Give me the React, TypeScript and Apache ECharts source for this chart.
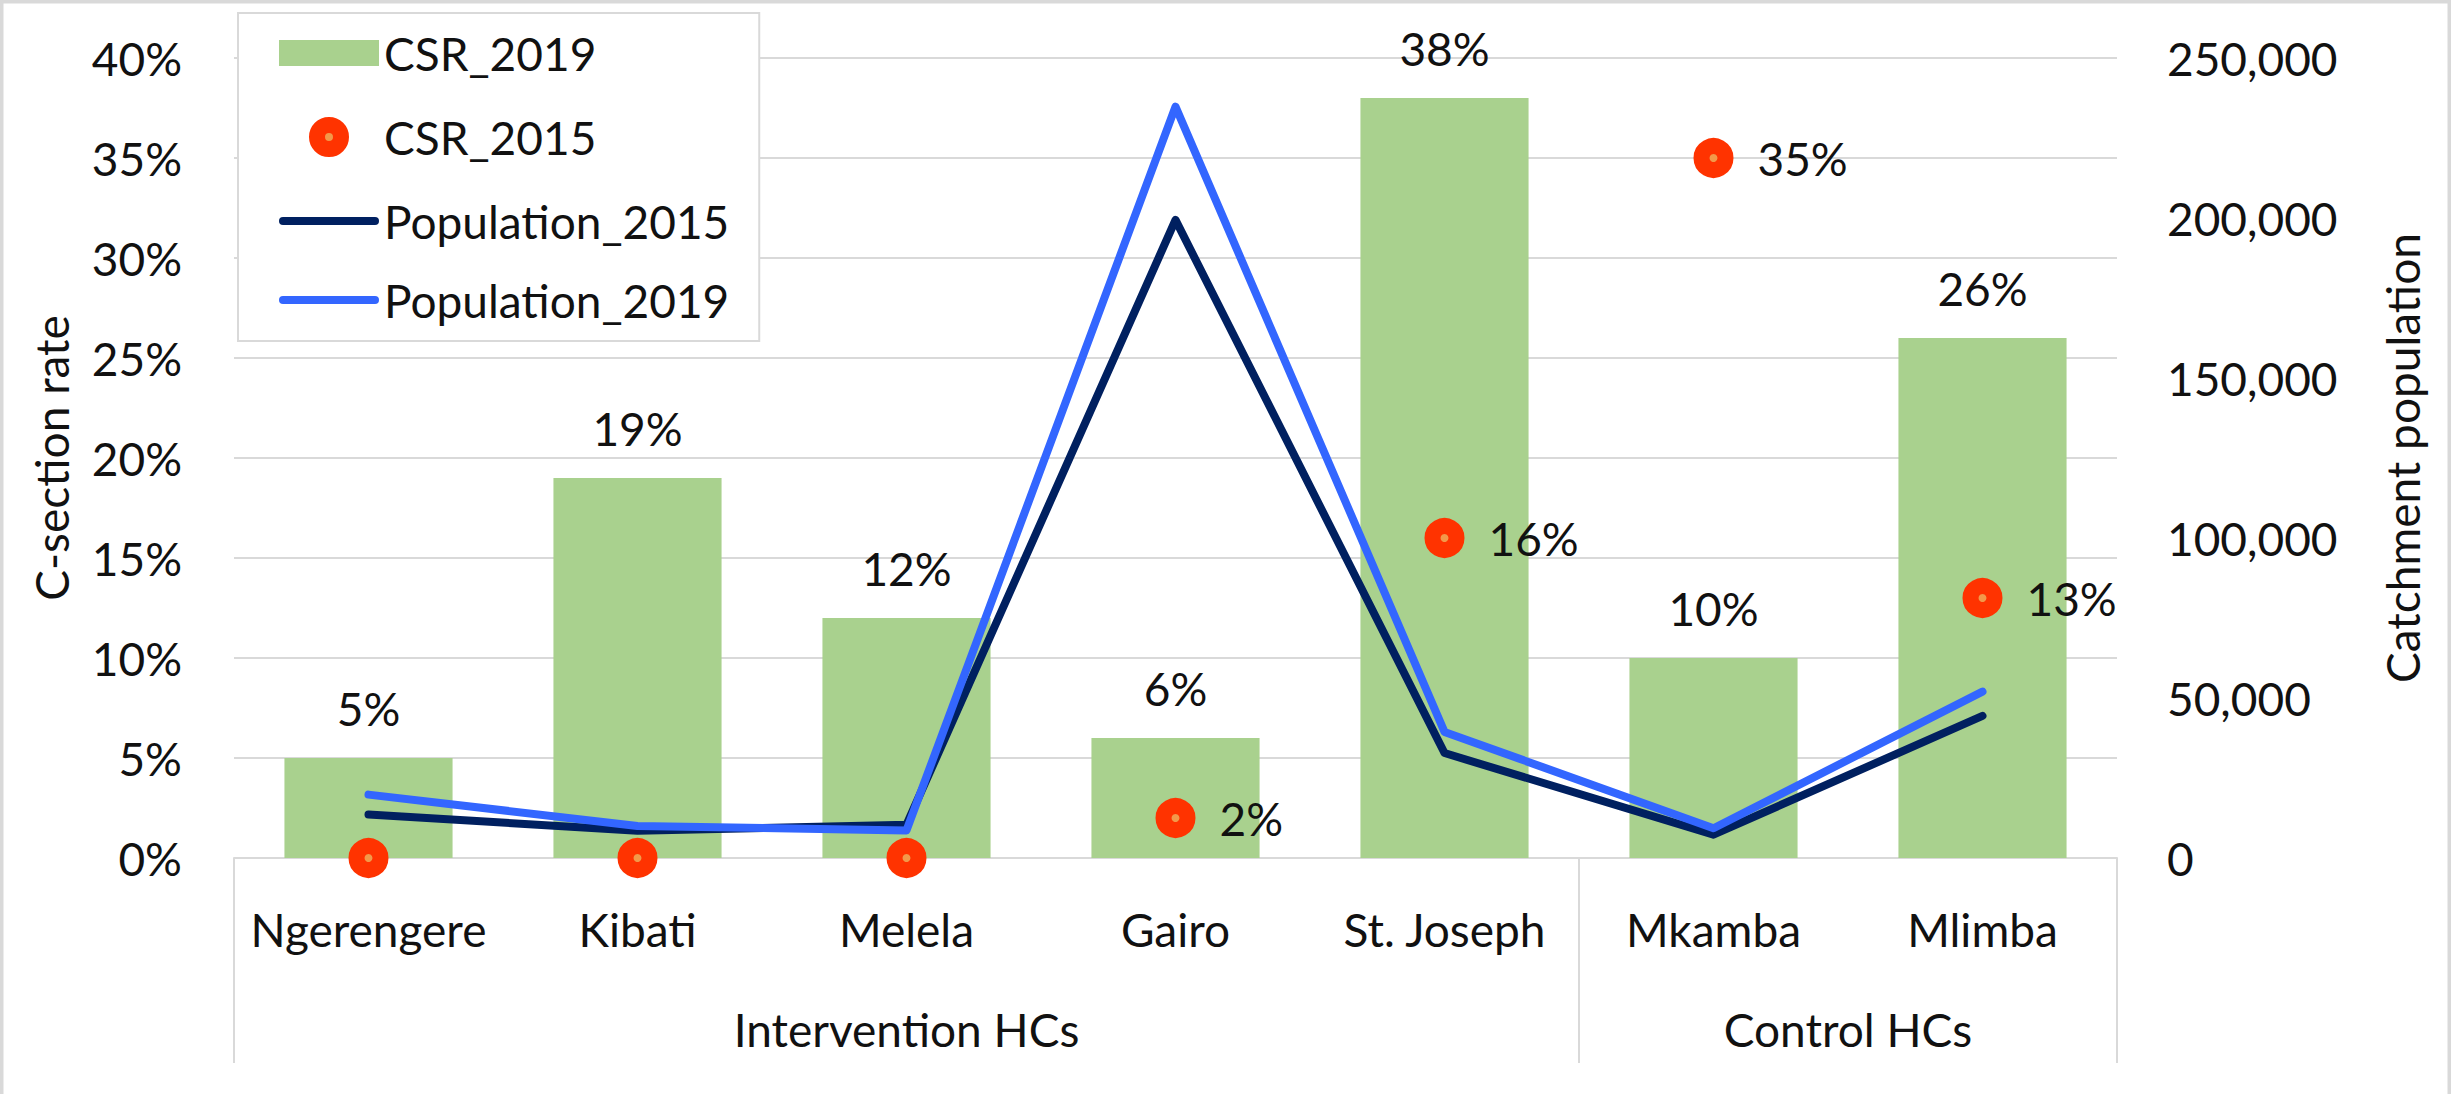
import React, { useEffect, useRef } from 'react';
import * as echarts from 'echarts';

// ---- data ----
const categories = ['Ngerengere', 'Kibati', 'Melela', 'Gairo', 'St. Joseph', 'Mkamba', 'Mlimba'];
const groups = ['Intervention HCs', 'Control HCs'];
const groupSizes = [5, 2];
const csr2019 = [5, 19, 12, 6, 38, 10, 26]; // %
const csr2015 = [0, 0, 0, 2, 16, 35, 13]; // %
const pop2015 = [13600, 8500, 10400, 199400, 32800, 7300, 44400];
const pop2019 = [19800, 10000, 8600, 234800, 39400, 9300, 52000];
const rateAxis = { min: 0, max: 40, interval: 5 };
const popAxis = { min: 0, max: 250000, interval: 50000 };

// group boundaries and centres (in category units)
const groupBounds: number[] = [0];
groupSizes.forEach((s, i) => groupBounds.push(groupBounds[i] + s));
const groupCenters = groupSizes.map((s, i) => groupBounds[i] + s / 2);

const FONT = 'Lato, "Noto Sans", sans-serif';
const TXT = '#111111';
const GRID = '#D9D9D9';
const FS = 46;
const DARK = '#002060';
const BLUE = '#3366FF';

const BAR_ICON = 'path://M0,0L0,0M0,7L100,7L100,33L0,33ZM100,40L100,40';
const DOT_ICON = 'path://M0,0L0,0M100,40L100,40M38,20A12,12,0,1,0,62,20A12,12,0,1,0,38,20Z';
const LINE_ICON = 'path://M0,0L0,0M100,40L100,40M4,16L96,16A4,4,0,0,1,96,24L4,24A4,4,0,0,1,4,16Z';

const option: any = {
  animation: false,
  textStyle: { fontFamily: FONT },
  graphic: [
    {
      type: 'rect',
      silent: true,
      shape: { x: 1.5, y: 1.5, width: 2448, height: 1300 },
      style: { fill: 'none', stroke: GRID, lineWidth: 4 },
    },
  ],
  grid: { left: 234, right: 334, top: 58, bottom: 236, containLabel: false },
  legend: {
    orient: 'vertical',
    left: 238,
    top: 13,
    itemWidth: 100,
    itemHeight: 40,
    itemGap: 33,
    padding: [17, 30, 18, 33],
    backgroundColor: '#ffffff',
    borderColor: GRID,
    borderWidth: 2,
    selectedMode: false,
    textStyle: { fontSize: FS, color: TXT, fontFamily: FONT },
    data: [
      { name: 'CSR_2019', icon: BAR_ICON },
      {
        name: 'CSR_2015',
        icon: DOT_ICON,
        itemStyle: { color: '#F2994A', borderColor: '#FF3300', borderWidth: 16 },
      },
      {
        name: 'Population_2015',
        icon: LINE_ICON,
        itemStyle: { color: DARK, borderWidth: 0 },
        lineStyle: { width: 0 },
      },
      {
        name: 'Population_2019',
        icon: LINE_ICON,
        itemStyle: { color: BLUE, borderWidth: 0 },
        lineStyle: { width: 0 },
      },
    ],
  },
  xAxis: [
    {
      type: 'category',
      data: categories,
      position: 'bottom',
      axisLine: { lineStyle: { color: GRID, width: 2 } },
      axisTick: { show: false },
      splitLine: { show: false },
      axisLabel: { interval: 0, margin: 48, fontSize: FS, color: TXT, fontFamily: FONT },
    },
    {
      type: 'value',
      min: 0,
      max: categories.length,
      interval: 0.5,
      position: 'bottom',
      axisLine: { show: false },
      splitLine: { show: false },
      axisTick: {
        show: true,
        customValues: groupBounds,
        length: 205,
        lineStyle: { color: GRID, width: 2 },
      },
      axisLabel: {
        customValues: groupCenters,
        formatter: (v: number) => {
          const i = groupCenters.findIndex((c) => Math.abs(c - v) < 1e-6);
          return i >= 0 ? groups[i] : '';
        },
        margin: 148,
        fontSize: FS,
        color: TXT,
        fontFamily: FONT,
      },
    },
  ],
  yAxis: [
    {
      type: 'value',
      ...rateAxis,
      name: 'C-section rate',
      nameLocation: 'middle',
      nameRotate: 90,
      nameGap: 160,
      nameTextStyle: { fontSize: FS, color: TXT, fontFamily: FONT },
      axisLine: { show: false },
      axisTick: { show: false },
      axisLabel: { formatter: '{value}%', margin: 52, fontSize: FS, color: TXT, fontFamily: FONT },
      splitLine: { lineStyle: { color: GRID, width: 2 } },
    },
    {
      type: 'value',
      ...popAxis,
      position: 'right',
      name: 'Catchment population',
      nameLocation: 'middle',
      nameRotate: 90,
      nameGap: 262,
      nameTextStyle: { fontSize: FS, color: TXT, fontFamily: FONT },
      axisLine: { show: false },
      axisTick: { show: false },
      axisLabel: {
        formatter: (v: number) => v.toLocaleString('en-US'),
        margin: 50,
        fontSize: FS,
        color: TXT,
        fontFamily: FONT,
      },
      splitLine: { show: false },
    },
  ],
  series: [
    {
      name: 'CSR_2019',
      type: 'bar',
      xAxisIndex: 0,
      yAxisIndex: 0,
      data: csr2019,
      barCategoryGap: '37.5%',
      itemStyle: { color: '#A9D18E' },
      label: {
        show: true,
        position: 'top',
        distance: 27,
        formatter: '{c}%',
        fontSize: FS,
        color: TXT,
        fontFamily: FONT,
      },
    },
    {
      name: 'CSR_2015',
      type: 'scatter',
      xAxisIndex: 0,
      yAxisIndex: 0,
      data: csr2015,
      clip: false,
      symbol: 'circle',
      symbolSize: 24,
      itemStyle: { color: '#F2994A', borderColor: '#FF3300', borderWidth: 16, opacity: 1 },
      label: {
        show: true,
        position: 'right',
        distance: 24,
        formatter: (p: any) => (p.value ? p.value + '%' : ''),
        fontSize: FS,
        color: TXT,
        fontFamily: FONT,
      },
      z: 3,
    },
    {
      name: 'Population_2015',
      type: 'line',
      xAxisIndex: 0,
      yAxisIndex: 1,
      data: pop2015,
      symbol: 'none',
      lineStyle: { color: DARK, width: 8, cap: 'round', join: 'round' },
      itemStyle: { color: DARK },
      z: 4,
    },
    {
      name: 'Population_2019',
      type: 'line',
      xAxisIndex: 0,
      yAxisIndex: 1,
      data: pop2019,
      symbol: 'none',
      lineStyle: { color: BLUE, width: 8, cap: 'round', join: 'round' },
      itemStyle: { color: BLUE },
      z: 5,
    },
  ],
};

export default function App() {
  const ref = useRef<HTMLDivElement>(null);
  useEffect(() => {
    const chart = echarts.init(ref.current as HTMLDivElement, undefined, { renderer: 'svg' });
    chart.setOption(option);
    return () => chart.dispose();
  }, []);
  return (
    <div
      ref={ref}
      style={{ position: 'absolute', left: 0, top: 0, width: 2451, height: 1094, background: '#ffffff' }}
    />
  );
}
